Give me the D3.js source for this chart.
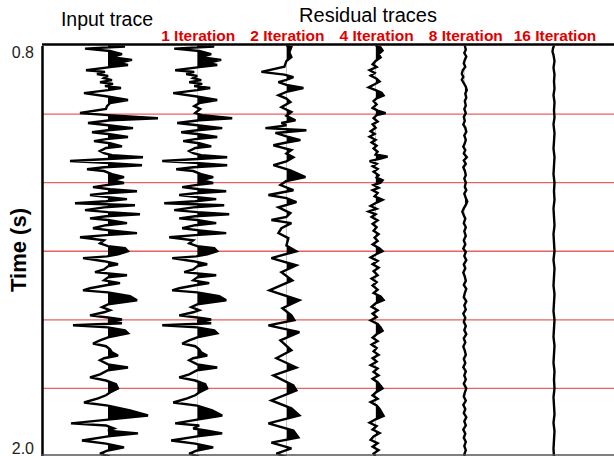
<!DOCTYPE html>
<html>
<head>
<meta charset="utf-8">
<script src="https://cdn.jsdelivr.net/npm/d3@7"></script>
<style>
  body { margin: 0; background: #fff; }
  svg { display: block; }
</style>
</head>
<body>
<script>
// Trace columns, left to right
const traceNames = ["Input trace", "1 Iteration", "2 Iteration", "4 Iteration", "8 Iteration", "16 Iteration"];
const headerLabels = ["1 Iteration", "2 Iteration", "4 Iteration", "8 Iteration", "16 Iteration"];
const timeTicks = [0.8, 2.0];
const horizonTimes = [1.0, 1.2, 1.4, 1.6, 1.8];

// Wiggle samples: [time (s), normalised amplitude]
const inputTrace = [[0.800,0],[0.803,0.34],[0.809,-0.46],[0.816,0.04],[0.825,0.28],[0.834,0.08],[0.842,0.48],[0.851,0.2],[0.857,0.4],[0.863,0.04],[0.872,-0.44],[0.877,-0.06],[0.883,-0.22],[0.889,0],[0.895,-0.08],[0.901,0.08],[0.907,-0.16],[0.912,0.1],[0.918,-0.06],[0.924,0.26],[0.930,0],[0.939,-0.48],[0.948,-0.04],[0.959,0.4],[0.968,0.04],[0.977,-0.02],[0.985,-0.04],[0.997,-0.56],[1.003,0],[1.012,1.0],[1.018,0.04],[1.026,-0.4],[1.032,-0.04],[1.041,0.5],[1.047,0],[1.053,-0.32],[1.058,0],[1.067,0.4],[1.073,-0.04],[1.079,-0.28],[1.085,0.04],[1.094,0.28],[1.099,-0.04],[1.108,-0.16],[1.114,-0.08],[1.120,0.08],[1.126,0.7],[1.131,0],[1.137,-0.76],[1.143,0.04],[1.149,0.68],[1.155,-0.08],[1.161,-0.42],[1.166,-0.08],[1.175,0.08],[1.184,0.32],[1.193,0.08],[1.201,0.32],[1.207,-0.04],[1.213,-0.3],[1.219,0.04],[1.225,0.58],[1.231,-0.04],[1.236,-0.36],[1.242,0],[1.248,0.38],[1.254,-0.04],[1.260,-0.66],[1.266,0.54],[1.272,-0.08],[1.280,-0.46],[1.286,0],[1.292,0.64],[1.298,-0.04],[1.304,-0.36],[1.309,0],[1.318,0.38],[1.324,-0.04],[1.333,-0.3],[1.339,0.04],[1.347,0.58],[1.353,-0.04],[1.359,-0.56],[1.368,-0.08],[1.377,-0.16],[1.385,0],[1.391,0.34],[1.400,0.4],[1.409,0.2],[1.415,-0.02],[1.420,-0.5],[1.429,-0.08],[1.438,0.2],[1.444,0],[1.453,-0.08],[1.461,-0.26],[1.470,0.38],[1.476,0],[1.485,-0.08],[1.493,0.24],[1.499,-0.04],[1.508,-0.36],[1.514,-0.5],[1.520,0],[1.531,0.44],[1.543,0.58],[1.555,0],[1.563,-0.12],[1.572,0.04],[1.578,-0.08],[1.587,-0.36],[1.593,0],[1.599,0.28],[1.604,0],[1.610,0.28],[1.616,-0.7],[1.622,0],[1.631,0.34],[1.639,0.4],[1.651,0],[1.660,-0.16],[1.669,-0.3],[1.677,-0.04],[1.686,0.04],[1.695,0.08],[1.704,0.2],[1.712,-0.08],[1.718,-0.16],[1.730,0],[1.739,0.4],[1.747,0],[1.759,-0.16],[1.768,-0.36],[1.777,-0.04],[1.788,0.16],[1.800,0.2],[1.812,0.04],[1.820,-0.04],[1.829,-0.2],[1.841,-0.48],[1.850,0],[1.864,0.44],[1.879,0.8],[1.891,0],[1.902,-0.74],[1.908,-0.04],[1.917,0.12],[1.923,0],[1.931,0.6],[1.940,0],[1.952,-0.52],[1.961,-0.04],[1.972,0.32],[1.981,0],[1.990,-0.16],[1.999,0.04]];

const residual1 = [[0.800,0],[0.803,0.34],[0.809,-0.46],[0.816,0.04],[0.825,0.28],[0.834,0.08],[0.842,0.48],[0.851,0.2],[0.857,0.4],[0.863,0.04],[0.872,-0.44],[0.877,-0.06],[0.883,-0.22],[0.889,0],[0.895,-0.08],[0.901,0.08],[0.907,-0.16],[0.912,0.1],[0.918,-0.06],[0.924,0.26],[0.930,0],[0.939,-0.48],[0.948,-0.04],[0.959,0.4],[0.968,0.04],[0.977,-0.06],[0.985,0.06],[0.997,-0.04],[1.003,0.1],[1.012,0.7],[1.018,0.04],[1.026,-0.4],[1.032,-0.04],[1.041,0.5],[1.047,0],[1.053,-0.32],[1.058,0],[1.067,0.4],[1.073,-0.04],[1.079,-0.28],[1.085,0.04],[1.094,0.28],[1.099,-0.04],[1.108,-0.16],[1.114,-0.08],[1.120,0.08],[1.126,0.6],[1.131,0],[1.137,-0.7],[1.143,0.04],[1.149,0.6],[1.155,-0.08],[1.161,-0.42],[1.166,-0.08],[1.175,0.08],[1.184,0.32],[1.193,0.08],[1.201,0.32],[1.207,-0.04],[1.213,-0.3],[1.219,0.04],[1.225,0.58],[1.231,-0.04],[1.236,-0.36],[1.242,0],[1.248,0.38],[1.254,-0.04],[1.260,-0.66],[1.266,0.54],[1.272,-0.08],[1.280,-0.46],[1.286,0],[1.292,0.64],[1.298,-0.04],[1.304,-0.36],[1.309,0],[1.318,0.38],[1.324,-0.04],[1.333,-0.3],[1.339,0.04],[1.347,0.58],[1.353,-0.04],[1.359,-0.56],[1.368,-0.08],[1.377,-0.16],[1.385,0],[1.391,0.34],[1.400,0.4],[1.409,0.2],[1.415,-0.02],[1.420,-0.5],[1.429,-0.08],[1.438,0.2],[1.444,0],[1.453,-0.08],[1.461,-0.26],[1.470,0.38],[1.476,0],[1.485,-0.08],[1.493,0.24],[1.499,-0.04],[1.508,-0.36],[1.514,-0.5],[1.520,0],[1.531,0.44],[1.543,0.58],[1.555,0],[1.563,-0.12],[1.572,0.04],[1.578,-0.08],[1.587,-0.36],[1.593,0],[1.599,0.28],[1.604,0],[1.610,0.28],[1.616,-0.7],[1.622,0],[1.631,0.34],[1.639,0.4],[1.651,0],[1.660,-0.16],[1.669,-0.3],[1.677,-0.04],[1.686,0.04],[1.695,0.08],[1.704,0.2],[1.712,-0.08],[1.718,-0.16],[1.730,0],[1.739,0.4],[1.747,0],[1.759,-0.16],[1.768,-0.36],[1.777,-0.04],[1.788,0.16],[1.800,0.2],[1.812,0.04],[1.820,-0.04],[1.829,-0.2],[1.841,-0.48],[1.850,0],[1.864,0.3],[1.879,0.5],[1.891,0],[1.902,-0.44],[1.908,0.04],[1.917,-0.08],[1.923,0.2],[1.931,0.5],[1.940,0],[1.952,-0.52],[1.961,-0.04],[1.972,0.32],[1.981,0],[1.990,-0.16],[1.999,0.04]];

const residual2 = [[0.800,0],[0.804,0.1],[0.820,0.06],[0.834,0.1],[0.845,0],[0.862,-0.04],[0.877,-0.5],[0.885,-0.04],[0.892,0.14],[0.900,0],[0.907,-0.16],[0.915,0],[0.924,0.34],[0.935,0],[0.945,-0.16],[0.955,0],[0.965,0.08],[0.980,-0.1],[0.994,0.1],[1.005,0],[1.018,0.18],[1.026,-0.1],[1.033,0],[1.041,-0.42],[1.047,0.4],[1.055,-0.22],[1.065,0],[1.076,0.28],[1.083,0],[1.091,-0.26],[1.105,0.1],[1.115,0],[1.126,0.14],[1.138,0],[1.149,-0.26],[1.164,0.08],[1.184,0.38],[1.195,0],[1.207,-0.12],[1.222,0.14],[1.236,-0.36],[1.245,0],[1.257,0.2],[1.272,-0.16],[1.289,0.08],[1.300,0],[1.309,-0.3],[1.318,0.1],[1.333,-0.1],[1.347,-0.16],[1.362,0.04],[1.383,0],[1.400,0.2],[1.420,-0.3],[1.441,0.2],[1.461,-0.1],[1.485,0.12],[1.514,-0.34],[1.543,0.26],[1.566,-0.08],[1.587,0.1],[1.601,0.16],[1.616,-0.36],[1.636,0.26],[1.660,-0.12],[1.689,0.1],[1.712,-0.2],[1.739,0.2],[1.762,-0.26],[1.791,0.14],[1.806,0.2],[1.835,-0.3],[1.858,0.1],[1.879,0.26],[1.902,-0.36],[1.923,0.14],[1.943,0.24],[1.958,-0.3],[1.975,0.1],[1.990,-0.2],[2.000,0]];

const residual4 = [[0.800,0],[0.806,0.1],[0.815,0.14],[0.825,0.06],[0.835,0.1],[0.845,0],[0.855,-0.06],[0.863,0.02],[0.872,-0.12],[0.880,-0.02],[0.888,-0.1],[0.897,0.02],[0.905,0.08],[0.913,-0.02],[0.922,-0.14],[0.930,0],[0.938,0.12],[0.946,0.16],[0.954,0.02],[0.962,-0.04],[0.972,0.02],[0.982,-0.06],[0.990,0.04],[0.997,0.2],[1.003,0.02],[1.012,-0.04],[1.022,0.04],[1.030,-0.06],[1.040,0],[1.050,-0.1],[1.058,-0.02],[1.066,-0.12],[1.075,0],[1.083,-0.08],[1.092,0.02],[1.100,-0.04],[1.110,0.04],[1.118,0],[1.124,0.24],[1.130,0.1],[1.137,-0.12],[1.145,0.02],[1.152,-0.06],[1.160,0.04],[1.168,-0.04],[1.178,0.06],[1.185,0.02],[1.193,0.14],[1.200,0.1],[1.207,-0.04],[1.215,0.06],[1.222,-0.06],[1.230,0.04],[1.240,-0.02],[1.250,0.14],[1.258,0.02],[1.268,-0.1],[1.276,0.02],[1.284,-0.14],[1.292,0],[1.300,-0.08],[1.310,0.04],[1.320,-0.06],[1.330,0.02],[1.340,-0.04],[1.350,0.06],[1.360,-0.02],[1.370,0.04],[1.380,-0.06],[1.392,0.08],[1.400,0.14],[1.408,0.02],[1.418,-0.1],[1.428,0.04],[1.438,-0.06],[1.448,0.06],[1.458,-0.04],[1.470,0.04],[1.480,-0.08],[1.490,0.02],[1.500,-0.06],[1.512,0.04],[1.522,-0.04],[1.532,0.1],[1.542,0.16],[1.552,0],[1.562,-0.08],[1.572,0.04],[1.582,-0.06],[1.592,0.02],[1.602,-0.1],[1.612,0.04],[1.622,0.1],[1.632,0.14],[1.642,0.02],[1.652,-0.06],[1.662,0.04],[1.672,-0.08],[1.682,0.02],[1.692,-0.04],[1.702,0.06],[1.712,-0.06],[1.722,0.02],[1.732,-0.1],[1.742,0.04],[1.752,-0.04],[1.762,0.06],[1.772,-0.06],[1.782,0.04],[1.792,0.1],[1.800,0.14],[1.810,0.02],[1.820,-0.06],[1.830,0.04],[1.840,-0.1],[1.850,0.02],[1.860,0.08],[1.870,0.12],[1.880,0.16],[1.890,0],[1.900,-0.12],[1.910,0.02],[1.920,-0.06],[1.930,0.08],[1.940,-0.04],[1.950,-0.1],[1.960,0.04],[1.970,-0.06],[1.980,0.06],[1.990,-0.04],[2.000,0]];

const residual8 = [[0.800,0],[0.812,0.02],[0.822,-0.01],[0.832,0.03],[0.842,0],[0.852,-0.02],[0.862,0.01],[0.872,-0.04],[0.882,-0.06],[0.892,-0.03],[0.900,-0.06],[0.910,-0.02],[0.920,0.02],[0.930,0.04],[0.940,0.01],[0.952,0.03],[0.962,0],[0.975,0.02],[0.985,-0.01],[0.997,0.02],[1.008,-0.02],[1.020,0],[1.030,-0.03],[1.040,0.01],[1.052,0.03],[1.062,-0.01],[1.075,0.02],[1.085,0],[1.095,-0.03],[1.105,0.01],[1.115,-0.02],[1.126,0.04],[1.135,-0.02],[1.145,0.02],[1.155,-0.03],[1.165,0],[1.178,0.02],[1.188,-0.01],[1.200,0.02],[1.212,0],[1.222,0.03],[1.232,-0.01],[1.245,0.02],[1.255,0.05],[1.265,0.02],[1.275,-0.02],[1.285,-0.05],[1.295,-0.02],[1.305,0.01],[1.318,-0.02],[1.330,0.02],[1.342,-0.01],[1.355,0.02],[1.368,-0.02],[1.380,0.01],[1.392,-0.03],[1.402,0.02],[1.414,-0.01],[1.426,0.03],[1.438,-0.02],[1.450,0.01],[1.462,-0.03],[1.474,0],[1.486,0.02],[1.498,-0.02],[1.510,0.03],[1.522,0],[1.534,-0.02],[1.546,0.03],[1.558,-0.01],[1.570,0.02],[1.582,-0.03],[1.594,0.01],[1.606,-0.02],[1.618,0.02],[1.630,-0.01],[1.642,0.03],[1.654,-0.02],[1.666,0.01],[1.678,-0.03],[1.690,0],[1.702,0.02],[1.714,-0.02],[1.726,0.01],[1.738,-0.03],[1.750,0.02],[1.762,-0.01],[1.774,0.02],[1.786,-0.02],[1.800,0.03],[1.812,0],[1.824,-0.02],[1.836,0.02],[1.848,-0.03],[1.860,0.01],[1.872,-0.02],[1.884,0.03],[1.896,-0.01],[1.908,0.02],[1.920,-0.03],[1.932,0.01],[1.944,-0.02],[1.956,0.02],[1.968,-0.01],[1.980,0.02],[1.992,-0.01],[2.000,0]];

const residual16 = [[0.800,0],[0.808,-0.02],[0.818,-0.03],[0.828,-0.01],[0.845,0.01],[0.865,-0.01],[0.885,0.01],[0.905,0],[0.925,0.01],[0.945,-0.01],[0.965,0.01],[0.990,0],[1.010,0.01],[1.030,-0.01],[1.055,0.01],[1.080,0],[1.100,-0.01],[1.125,0.01],[1.150,0],[1.175,-0.01],[1.200,0.01],[1.225,0],[1.250,0.01],[1.275,-0.01],[1.300,0],[1.325,0.01],[1.350,-0.01],[1.375,0],[1.400,0.01],[1.425,-0.01],[1.450,0.01],[1.475,0],[1.500,-0.01],[1.525,0.01],[1.550,0],[1.575,-0.01],[1.600,0.01],[1.625,0],[1.650,-0.01],[1.675,0.01],[1.700,0],[1.725,-0.01],[1.750,0.01],[1.775,0],[1.800,0.01],[1.825,-0.01],[1.850,0],[1.875,0.01],[1.900,-0.01],[1.925,0.01],[1.950,0],[1.975,-0.01],[2.000,0]];

const traces = [inputTrace, residual1, residual2, residual4, residual8, residual16];

const width = 614, height = 456;
const plot = { left: 42, top: 45.5, right: 640, bottom: 457 };
const fontFamily = "Liberation Sans, Arial, sans-serif";

const svg = d3.select("body").append("svg")
  .attr("width", width).attr("height", height);

const y = d3.scaleLinear().domain([0.8, 2.0]).range([plot.top, plot.bottom]);
const xTrace = d3.scalePoint().domain(traceNames).range([108, 554]);
const amp = d3.scaleLinear().domain([-1, 1]).range([-50, 50]);

const defs = svg.append("defs");
defs.append("clipPath").attr("id", "plot-clip")
  .append("rect")
  .attr("x", plot.left).attr("y", plot.top)
  .attr("width", plot.right - plot.left).attr("height", plot.bottom - plot.top);

// Horizon lines
svg.append("g")
  .selectAll("line").data(horizonTimes).join("line")
  .attr("x1", plot.left).attr("x2", width)
  .attr("y1", d => y(d)).attr("y2", d => y(d))
  .attr("stroke", "#e8615f").attr("stroke-width", 1.4);

const traceLayer = svg.append("g").attr("clip-path", "url(#plot-clip)");

traces.forEach((data, i) => {
  const base = xTrace(traceNames[i]);
  const g = traceLayer.append("g");

  // Positive lobes are filled black: clip the area to the right of the baseline
  defs.append("clipPath").attr("id", "pos-" + i)
    .append("rect")
    .attr("x", base).attr("y", plot.top)
    .attr("width", 80).attr("height", plot.bottom - plot.top);

  const area = d3.area()
    .y(d => y(d[0]))
    .x0(base)
    .x1(d => base + amp(d[1]));
  g.append("path").datum(data)
    .attr("d", area)
    .attr("clip-path", "url(#pos-" + i + ")")
    .attr("fill", "#000");

  const line = d3.line()
    .y(d => y(d[0]))
    .x(d => base + amp(d[1]));
  g.append("path").datum(data)
    .attr("d", line)
    .attr("fill", "none")
    .attr("stroke", "#000")
    .attr("stroke-width", 2.4)
    .attr("stroke-linejoin", "miter")
    .attr("stroke-miterlimit", 3);
});

// Frame: top edge
svg.append("line")
  .attr("x1", plot.left).attr("x2", width)
  .attr("y1", plot.top - 1).attr("y2", plot.top - 1)
  .attr("stroke", "#000").attr("stroke-width", 2.5);

const axis = d3.axisLeft(y).tickValues(timeTicks).tickSize(0).tickPadding(8)
  .tickFormat(d3.format(".1f"));
const axisG = svg.append("g")
  .attr("transform", `translate(${plot.left},0)`)
  .call(axis);
axisG.select(".domain").attr("stroke", "#000").attr("stroke-width", 2.5);
axisG.selectAll("text")
  .attr("font-family", fontFamily)
  .attr("font-size", 16)
  .attr("fill", "#222")
  .attr("dy", (d, i) => i === 0 ? "0.75em" : "-0.2em");

svg.append("line")
  .attr("x1", plot.left).attr("x2", width)
  .attr("y1", 455).attr("y2", 455)
  .attr("stroke", "#555").attr("stroke-width", 1.5);

// Axis title
svg.append("text")
  .attr("transform", "translate(26,250) rotate(-90)")
  .attr("text-anchor", "middle")
  .attr("font-family", fontFamily)
  .attr("font-weight", "bold")
  .attr("font-size", 22)
  .text("Time (s)");

// Headers
svg.append("text")
  .attr("x", xTrace("Input trace") - 1).attr("y", 26)
  .attr("text-anchor", "middle")
  .attr("font-family", fontFamily)
  .attr("font-size", 19.5)
  .text("Input trace");

svg.append("text")
  .attr("x", 368).attr("y", 22)
  .attr("text-anchor", "middle")
  .attr("font-family", fontFamily)
  .attr("font-size", 20)
  .text("Residual traces");

svg.append("g")
  .selectAll("text").data(headerLabels).join("text")
  .attr("x", d => xTrace(d) + 1)
  .attr("y", 41)
  .attr("text-anchor", "middle")
  .attr("font-family", fontFamily)
  .attr("font-weight", "bold")
  .attr("font-size", 15.5)
  .attr("fill", "#e00000")
  .text(d => d);
</script>
</body>
</html>
